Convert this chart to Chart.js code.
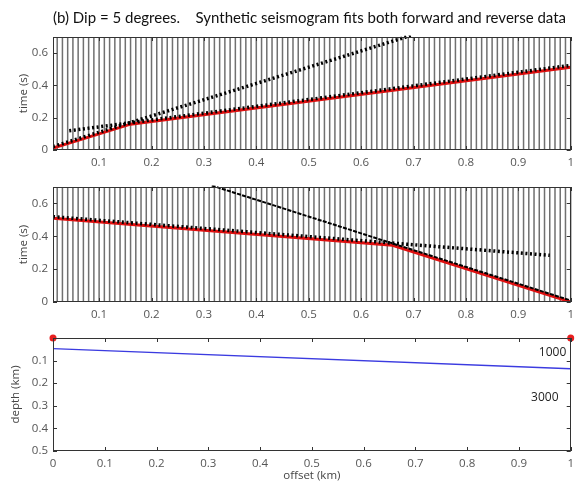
<!DOCTYPE html>
<html><head><meta charset="utf-8">
<script src="https://cdn.jsdelivr.net/npm/chart.js@4.4.1/dist/chart.umd.min.js"></script>
<style>
html,body{margin:0;padding:0;background:#fff;}
#wrap{position:relative;width:580px;height:484px;overflow:hidden;background:#fff;}
canvas{position:absolute;left:0;top:0;}
#title{position:absolute;left:53px;top:8px;font:15px Lato, "Open Sans", sans-serif;white-space:pre;color:#111;}
</style></head><body>
<div id="wrap">
<canvas id="c1" width="580" height="484"></canvas>
<canvas id="c2" width="580" height="484"></canvas>
<canvas id="c3" width="580" height="484"></canvas>
<div id="title">(b) Dip = 5 degrees.    Synthetic seismogram fits both forward and reverse data</div>
</div>
<script>
// ---- data ----
const traceOffsets = [0.02,0.03,0.04,0.05,0.06,0.07,0.08,0.09,0.10,0.11,0.12,0.13,0.14,0.15,0.16,0.17,0.18,0.19,0.20,
0.21,0.22,0.23,0.24,0.25,0.26,0.27,0.28,0.29,0.30,0.31,0.32,0.33,0.34,0.35,0.36,0.37,0.38,0.39,0.40,
0.41,0.42,0.43,0.44,0.45,0.46,0.47,0.48,0.49,0.50,0.51,0.52,0.53,0.54,0.55,0.56,0.57,0.58,0.59,0.60,
0.61,0.62,0.63,0.64,0.65,0.66,0.67,0.68,0.69,0.70,0.71,0.72,0.73,0.74,0.75,0.76,0.77,0.78,0.79,0.80,
0.81,0.82,0.83,0.84,0.85,0.86,0.87,0.88,0.89,0.90,0.91,0.92,0.93,0.94,0.95,0.96,0.97,0.98,0.99,1.00];
const offsetTicks = [0.1,0.2,0.3,0.4,0.5,0.6,0.7,0.8,0.9,1];
const timeTicks = [0,0.2,0.4,0.6];
const modelOffsetTicks = [0,0.1,0.2,0.3,0.4,0.5,0.6,0.7,0.8,0.9,1];
const depthTicks = [0.1,0.2,0.3,0.4,0.5];

// forward shot (source at offset 0)
const fwdFirstX = [0.012, 0.16, 1.0];
const fwdFirstT = [0.012, 0.16, 0.512];
const fwdDirectX = [0.012, 0.695];
const fwdDirectT = [0.012, 0.70];
const fwdHeadX = [0.043, 1.0];
const fwdHeadT = [0.11, 0.515];

// reverse shot (source at offset 1)
const revFirstX = [0.012, 0.66, 1.0];
const revFirstT = [0.51, 0.345, 0.0];
const revDirectX = [0.315, 1.0];
const revDirectT = [0.70, 0.0];
const revHeadX = [0.012, 0.96];
const revHeadT = [0.51, 0.275];

// model
const interfaceX = [0, 1];
const interfaceDepth = [0.047, 0.136];
const sourceX = [0, 1];
const sourceDepth = [0, 0];
const velocityText = ['1000', '3000'];
const velocityX = [0.965, 0.95];
const velocityDepth = [0.064, 0.265];

// ---- helpers ----
const FONT = '"Open Sans", sans-serif';
const pts = (xs, ys) => xs.map((v, i) => ({x: v, y: ys[i]}));

const framePlugin = {
  id: 'frame',
  beforeDatasetsDraw(chart, args, opts) {
    if (!opts.traces) return;
    const {ctx, chartArea: a, scales: {x}} = chart;
    ctx.save();
    ctx.strokeStyle = '#707070';
    ctx.lineWidth = 1.5;
    ctx.beginPath();
    opts.traces.forEach(v => {
      const px = x.getPixelForValue(v);
      ctx.moveTo(px, a.top); ctx.lineTo(px, a.bottom);
    });
    ctx.stroke();
    ctx.restore();
  },
  beforeDatasetDraw(chart, args, opts) {
    const ds = chart.data.datasets[args.index];
    chart.ctx.save();
    if (ds.lift) chart.ctx.translate(0, -ds.lift);
  },
  afterDatasetDraw(chart) { chart.ctx.restore(); },
  afterDatasetsDraw(chart, args, opts) {
    const {ctx, chartArea: a, scales: {x, y}} = chart;
    ctx.save();
    ctx.strokeStyle = '#333';
    ctx.lineWidth = 1;
    ctx.strokeRect(Math.round(a.left) + 0.5, Math.round(a.top) + 0.5,
                   Math.round(a.right - a.left) - 1, Math.round(a.bottom - a.top) - 1);
    const L = 4;
    ctx.beginPath();
    (opts.xTicks || []).forEach(v => {
      const px = Math.round(x.getPixelForValue(v)) + 0.5;
      ctx.moveTo(px, a.bottom); ctx.lineTo(px, a.bottom - L);
      ctx.moveTo(px, a.top); ctx.lineTo(px, a.top + L);
    });
    (opts.yTicks || []).forEach(v => {
      const py = Math.round(y.getPixelForValue(v)) + 0.5;
      ctx.moveTo(a.left, py); ctx.lineTo(a.left + L, py);
      ctx.moveTo(a.right, py); ctx.lineTo(a.right - L, py);
    });
    ctx.stroke();
    if (opts.labels) {
      ctx.fillStyle = '#222';
      ctx.font = '12px ' + FONT;
      ctx.textAlign = 'center';
      ctx.textBaseline = 'middle';
      opts.labels.text.forEach((t, i) => {
        ctx.fillText(t, x.getPixelForValue(opts.labels.x[i]), y.getPixelForValue(opts.labels.y[i]));
      });
    }
    ctx.restore();
  }
};

function xScale(min, max, ticks, height, title) {
  return {
    type: 'linear', min, max,
    afterBuildTicks: s => { s.ticks = ticks.map(v => ({value: v})); },
    afterFit: s => { s.height = height; },
    grid: {display: false, drawTicks: false},
    border: {display: false},
    ticks: {padding: 6, color: '#555', font: {family: FONT, size: 11.5},
            callback: v => String(Math.round(v * 10) / 10)},
    title: title ? {display: true, text: title, color: '#444', font: {family: FONT, size: 11.5},
                    padding: {top: 0, bottom: 1}} : {display: false}
  };
}
function yScale(min, max, ticks, title, titlePad, reverse) {
  return {
    type: 'linear', min, max, reverse: !!reverse,
    afterBuildTicks: s => { s.ticks = ticks.map(v => ({value: v})); },
    afterFit: s => { s.width = 53; },
    grid: {display: false, drawTicks: false},
    border: {display: false},
    ticks: {padding: 5, color: '#555', font: {family: FONT, size: 11.5},
            callback: v => String(Math.round(v * 10) / 10)},
    title: {display: true, text: title, color: '#444', font: {family: FONT, size: 11.5},
            padding: {top: titlePad, bottom: 0}}
  };
}
const baseOpts = (pad) => ({
  responsive: false, animation: false, devicePixelRatio: 1,
  layout: {padding: pad},
  plugins: {legend: {display: false}, tooltip: {enabled: false}}
});

const wiggle = (xs, ys, w, dash) => ({type: 'line', data: pts(xs, ys), borderColor: '#000',
  borderWidth: w || 3.5, borderDash: dash || [2, 2.6], pointRadius: 0, lift: 1.5, tension: 0});
const firstArr = (xs, ys) => ({type: 'line', data: pts(xs, ys), borderColor: '#e01010',
  borderWidth: 3, pointRadius: 0, tension: 0});

// ---- panel 1: forward shot ----
const o1 = baseOpts({top: 37, left: 0, right: 5, bottom: 314});
o1.scales = {x: xScale(0.012, 1.0, offsetTicks, 20), y: yScale(0, 0.7, timeTicks, 'time (s)', 17)};
o1.plugins.frame = {traces: traceOffsets, xTicks: offsetTicks, yTicks: timeTicks};
new Chart(document.getElementById('c1'), {
  type: 'scatter',
  data: {datasets: [wiggle(fwdDirectX, fwdDirectT), wiggle(fwdHeadX, fwdHeadT), firstArr(fwdFirstX, fwdFirstT)]},
  options: o1, plugins: [framePlugin]
});

// ---- panel 2: reverse shot ----
const o2 = baseOpts({top: 187, left: 0, right: 5, bottom: 162});
o2.scales = {x: xScale(0.012, 1.0, offsetTicks, 20), y: yScale(0, 0.7, timeTicks, 'time (s)', 17)};
o2.plugins.frame = {traces: traceOffsets, xTicks: offsetTicks, yTicks: timeTicks};
new Chart(document.getElementById('c2'), {
  type: 'scatter',
  data: {datasets: [wiggle(revDirectX, revDirectT, 2, [4, 1.3]), wiggle(revHeadX, revHeadT), firstArr(revFirstX, revFirstT)]},
  options: o2, plugins: [framePlugin]
});

// ---- panel 3: model ----
const o3 = baseOpts({top: 338, left: 0, right: 4, bottom: 0});
const ys3 = yScale(0, 0.5, depthTicks, 'depth (km)', 9, true);
o3.scales = {x: xScale(0, 1, modelOffsetTicks, 33, 'offset (km)'), y: ys3};
o3.plugins.frame = {xTicks: modelOffsetTicks, yTicks: depthTicks,
  labels: {text: velocityText, x: velocityX, y: velocityDepth}};
new Chart(document.getElementById('c3'), {
  type: 'scatter',
  data: {datasets: [
    {type: 'line', data: pts(interfaceX, interfaceDepth), borderColor: '#3b3be0', borderWidth: 1.3, pointRadius: 0},
    {data: pts(sourceX, sourceDepth), backgroundColor: '#e82020', borderWidth: 0, pointRadius: 3.5, clip: false}
  ]},
  options: o3, plugins: [framePlugin]
});
</script>
</body></html>
